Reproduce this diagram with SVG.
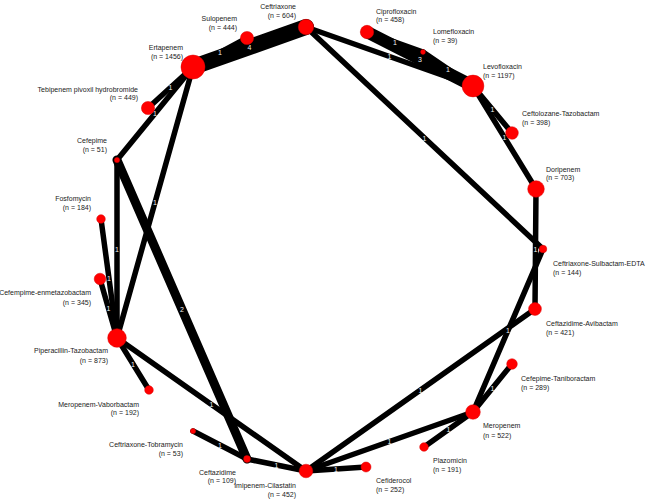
<svg xmlns="http://www.w3.org/2000/svg" width="650" height="501" viewBox="0 0 650 501">
<style>
.e{stroke:#000;stroke-linecap:round;fill:none}
.w1{stroke-width:5.5}
.w2{stroke-width:9}
.w3{stroke-width:12.5}
.w4{stroke-width:16}
.en{font-family:"Liberation Sans",Arial,sans-serif;font-size:7px;fill:#f2f2f2;text-anchor:middle}
.n{fill:#ff0000;stroke:#dd0000;stroke-width:0.5}
.l{font-family:"Liberation Sans",Arial,sans-serif;font-size:7px;fill:#222}
.r{text-anchor:end}
</style>
<rect width="650" height="501" fill="#fff"/>
<g id="connectors">
<line class="e w1" x1="193" y1="67" x2="247" y2="38"/>
<line class="e w4" x1="193" y1="67" x2="306" y2="27"/>
<line class="e w1" x1="193" y1="67" x2="148" y2="108"/>
<line class="e w1" x1="193" y1="67" x2="117" y2="160"/>
<line class="e w1" x1="193" y1="67" x2="117" y2="338"/>
<line class="e w1" x1="117" y1="160" x2="117" y2="338"/>
<line class="e w2" x1="117" y1="160" x2="247" y2="459"/>
<line class="e w1" x1="101" y1="219" x2="117" y2="338"/>
<line class="e w1" x1="100" y1="279" x2="117" y2="338"/>
<line class="e w1" x1="117" y1="338" x2="149" y2="390"/>
<line class="e w1" x1="117" y1="338" x2="306" y2="471"/>
<line class="e w1" x1="193" y1="431" x2="247" y2="459"/>
<line class="e w1" x1="247" y1="459" x2="306" y2="471"/>
<line class="e w1" x1="306" y1="471" x2="366" y2="467"/>
<line class="e w1" x1="306" y1="471" x2="473" y2="412"/>
<line class="e w1" x1="306" y1="471" x2="535" y2="309"/>
<line class="e w1" x1="473" y1="412" x2="424" y2="447"/>
<line class="e w1" x1="473" y1="412" x2="512" y2="364"/>
<line class="e w1" x1="473" y1="412" x2="543" y2="249"/>
<line class="e w1" x1="536" y1="189" x2="535" y2="309"/>
<line class="e w1" x1="306" y1="27" x2="543" y2="249"/>
<line class="e w1" x1="306" y1="27" x2="473" y2="86"/>
<line class="e w1" x1="367" y1="32" x2="423" y2="52"/>
<line class="e w3" x1="367" y1="32" x2="473" y2="86"/>
<line class="e w1" x1="423" y1="52" x2="473" y2="86"/>
<line class="e w1" x1="473" y1="86" x2="512" y2="133"/>
<line class="e w1" x1="473" y1="86" x2="536" y2="189"/>
<text class="en" x="220" y="55">1</text>
<text class="en" x="249.5" y="49.5">4</text>
<text class="en" x="170.5" y="90">1</text>
<text class="en" x="155" y="116">1</text>
<text class="en" x="155" y="205">1</text>
<text class="en" x="117" y="251.5">1</text>
<text class="en" x="182" y="312">2</text>
<text class="en" x="109" y="281">1</text>
<text class="en" x="108.5" y="311">1</text>
<text class="en" x="133" y="366.5">1</text>
<text class="en" x="211.5" y="407">1</text>
<text class="en" x="220" y="447.5">1</text>
<text class="en" x="276.5" y="467.5">1</text>
<text class="en" x="336" y="471.5">1</text>
<text class="en" x="389.5" y="444">1</text>
<text class="en" x="420.5" y="392.5">1</text>
<text class="en" x="448.5" y="432">1</text>
<text class="en" x="492.5" y="390.5">1</text>
<text class="en" x="508" y="333">1</text>
<text class="en" x="535.5" y="251.5">1</text>
<text class="en" x="424.5" y="140.5">1</text>
<text class="en" x="389.5" y="59">1</text>
<text class="en" x="395" y="44.5">1</text>
<text class="en" x="420" y="61.5">3</text>
<text class="en" x="448" y="71.5">1</text>
<text class="en" x="492.5" y="112">1</text>
<text class="en" x="504.5" y="140">1</text>
</g>
<g id="n-ceftriaxone"><circle class="n" cx="306" cy="27" r="7.7"/><text class="l r" x="296" y="9">Ceftriaxone</text><text class="l r" x="296" y="18">(n = 604)</text></g>
<g id="n-sulopenem"><circle class="n" cx="247" cy="38" r="6.6"/><text class="l r" x="237" y="20.5">Sulopenem</text><text class="l r" x="237" y="30">(n = 444)</text></g>
<g id="n-ertapenem"><circle class="n" cx="193" cy="67" r="12"/><text class="l r" x="183" y="49.5">Ertapenem</text><text class="l r" x="183" y="58.5">(n = 1456)</text></g>
<g id="n-tebipenem"><circle class="n" cx="148" cy="108" r="6.6"/><text class="l r" x="138" y="91.5">Tebipenem pivoxil hydrobromide</text><text class="l r" x="138" y="100">(n = 449)</text></g>
<g id="n-cefepime"><circle class="n" cx="117" cy="160" r="2.6"/><text class="l r" x="107" y="142.5">Cefepime</text><text class="l r" x="107" y="152">(n = 51)</text></g>
<g id="n-fosfomycin"><circle class="n" cx="101" cy="219" r="4.3"/><text class="l r" x="91" y="201">Fosfomycin</text><text class="l r" x="91" y="209.5">(n = 184)</text></g>
<g id="n-cefempime-enmetazobactam"><circle class="n" cx="100" cy="279" r="5.8"/><text class="l r" x="91" y="295">Cefempime-enmetazobactam</text><text class="l r" x="91" y="304.5">(n = 345)</text></g>
<g id="n-piperacillin-tazobactam"><circle class="n" cx="117" cy="338" r="9.3"/><text class="l r" x="108" y="353">Piperacillin-Tazobactam</text><text class="l r" x="108" y="362.5">(n = 873)</text></g>
<g id="n-meropenem-vaborbactam"><circle class="n" cx="149" cy="390" r="4.3"/><text class="l r" x="139" y="406.5">Meropenem-Vaborbactam</text><text class="l r" x="139" y="415">(n = 192)</text></g>
<g id="n-ceftriaxone-tobramycin"><circle class="n" cx="193" cy="431" r="2.6"/><text class="l r" x="183" y="447">Ceftriaxone-Tobramycin</text><text class="l r" x="183" y="456">(n = 53)</text></g>
<g id="n-ceftazidime"><circle class="n" cx="247" cy="459" r="3.4"/><text class="l r" x="236" y="475">Ceftazidime</text><text class="l r" x="236" y="483">(n = 109)</text></g>
<g id="n-imipenem-cilastatin"><circle class="n" cx="306" cy="471" r="6.8"/><text class="l r" x="296" y="488">Imipenem-Cilastatin</text><text class="l r" x="296" y="496.5">(n = 452)</text></g>
<g id="n-cefiderocol"><circle class="n" cx="366" cy="467" r="5"/><text class="l" x="376" y="482.5">Cefiderocol</text><text class="l" x="376" y="492">(n = 252)</text></g>
<g id="n-plazomicin"><circle class="n" cx="424" cy="447" r="4.3"/><text class="l" x="433" y="463">Plazomicin</text><text class="l" x="433" y="472">(n = 191)</text></g>
<g id="n-meropenem"><circle class="n" cx="473" cy="412" r="7.3"/><text class="l" x="483" y="428">Meropenem</text><text class="l" x="483" y="437.5">(n = 522)</text></g>
<g id="n-cefepime-taniboractam"><circle class="n" cx="512" cy="364" r="5.3"/><text class="l" x="521" y="381">Cefepime-Taniboractam</text><text class="l" x="521" y="390">(n = 289)</text></g>
<g id="n-ceftazidime-avibactam"><circle class="n" cx="535" cy="309" r="6.4"/><text class="l" x="546" y="326">Ceftazidime-Avibactam</text><text class="l" x="546" y="334.5">(n = 421)</text></g>
<g id="n-ceftriaxone-sulbactam-edta"><circle class="n" cx="543" cy="249" r="3.8"/><text class="l" x="553" y="266">Ceftriaxone-Sulbactam-EDTA</text><text class="l" x="553" y="274.5">(n = 144)</text></g>
<g id="n-doripenem"><circle class="n" cx="536" cy="189" r="8.3"/><text class="l" x="546" y="172">Doripenem</text><text class="l" x="546" y="180">(n = 703)</text></g>
<g id="n-ceftolozane-tazobactam"><circle class="n" cx="512" cy="133" r="6.3"/><text class="l" x="522" y="115.5">Ceftolozane-Tazobactam</text><text class="l" x="522" y="124.5">(n = 398)</text></g>
<g id="n-levofloxacin"><circle class="n" cx="473" cy="86" r="10.9"/><text class="l" x="483" y="69">Levofloxacin</text><text class="l" x="483" y="77.5">(n = 1197)</text></g>
<g id="n-lomefloxacin"><circle class="n" cx="423" cy="52" r="2.4"/><text class="l" x="433" y="34">Lomefloxacin</text><text class="l" x="433" y="42.5">(n = 39)</text></g>
<g id="n-ciprofloxacin"><circle class="n" cx="367" cy="32" r="6.7"/><text class="l" x="376" y="13.5">Ciprofloxacin</text><text class="l" x="376" y="21.5">(n = 458)</text></g>
</svg>
